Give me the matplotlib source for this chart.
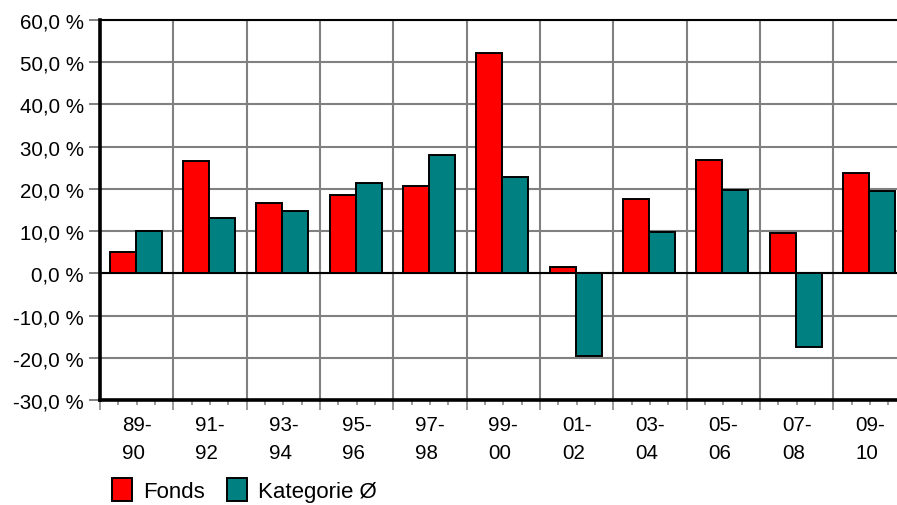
import numpy as np
import matplotlib
matplotlib.use('Agg')
import matplotlib.pyplot as plt
from matplotlib.ticker import FuncFormatter

plt.rcParams['font.family'] = ['Liberation Sans', 'DejaVu Sans']

# Data (percent)
periods = ['89-\n90', '91-\n92', '93-\n94', '95-\n96', '97-\n98', '99-\n00',
           '01-\n02', '03-\n04', '05-\n06', '07-\n08', '09-\n10']
fonds = [5.1, 26.5, 16.7, 18.5, 20.8, 52.2, 1.4, 17.5, 26.9, 9.5, 23.8]
kategorie = [10.0, 13.2, 14.8, 21.3, 28.0, 22.7, -19.6, 9.9, 19.8, -17.5, 19.4]

grey = '#808080'
n = len(periods)
x = np.arange(n)

fig = plt.figure(figsize=(8.97, 5.06), dpi=100)
ax = fig.add_axes([100 / 897, 105 / 506, 806.7 / 897, 380 / 506])

# bars
ax.bar(x + 0.13, fonds, width=0.355, align='edge', color='#FF0000',
       edgecolor='black', linewidth=1.4, label='Fonds', zorder=3)
ax.bar(x + 0.485, kategorie, width=0.355, align='edge', color='#008080',
       edgecolor='black', linewidth=1.4, label='Kategorie Ø', zorder=3)

ax.set_xlim(0, n)
ax.set_ylim(-30, 60)

# y axis
ax.set_yticks(np.arange(-30, 61, 10))
ax.yaxis.set_major_formatter(FuncFormatter(lambda v, p: f'{v:.1f} %'.replace('.', ',')))
ax.tick_params(axis='y', direction='out', length=8, width=1.4, color=grey,
               pad=3.5, labelsize=14.8)

# x axis: long ticks at group borders, short ticks at quarters
ax.set_xticks(np.arange(0, n + 1))
ax.set_xticklabels([])
minor_pos = []
minor_lab = []
for i in range(n):
    for q, lab in [(0.25, ''), (0.5, periods[i]), (0.75, '')]:
        minor_pos.append(i + q)
        minor_lab.append(lab)
ax.set_xticks(minor_pos, minor_lab, minor=True)
ax.tick_params(axis='x', which='major', direction='out', length=7, width=1.1, color=grey)
ax.tick_params(axis='x', which='minor', direction='out', length=3.6, width=1.1, color=grey,
               pad=7, labelsize=14.8)
for t in ax.get_xticklabels(minor=True):
    t.set_linespacing(1.65)
    t.set_multialignment('left')

# grid
ax.grid(True, which='major', color=grey, linewidth=1.5)
ax.set_axisbelow(True)
ax.axhline(0, color='black', linewidth=1.5, zorder=2)

for side in ['left', 'bottom']:
    ax.spines[side].set_linewidth(2.6)
    ax.spines[side].set_zorder(4)
ax.spines['top'].set_linewidth(1.5)
ax.spines['right'].set_visible(False)

fig.legend(loc='upper left', bbox_to_anchor=(112 / 897, 1 - 479 / 506),
           ncol=2, frameon=False, fontsize=16, handlelength=0.9, handleheight=1.2,
           handletextpad=0.5, columnspacing=1.0, borderpad=0, borderaxespad=0)

fig.savefig('out.png', dpi=100)
